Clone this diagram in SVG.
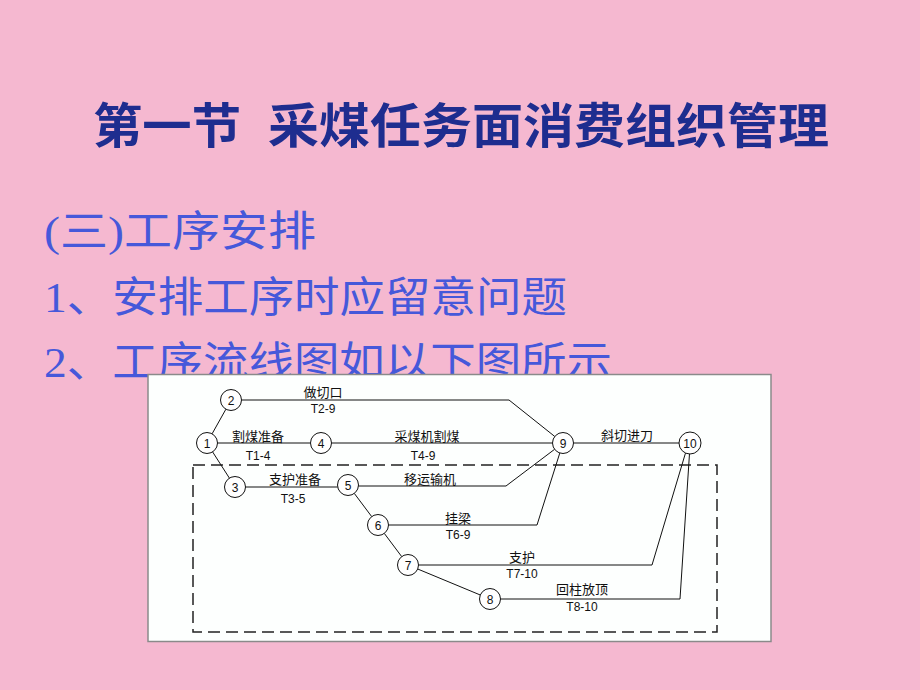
<svg xmlns="http://www.w3.org/2000/svg" width="920" height="690" viewBox="0 0 920 690">
<style>
.title{font-family:"Noto Sans CJK SC","Liberation Sans",sans-serif;font-weight:bold;fill:#1e2d8f}
.sub{font-family:"Liberation Serif","Noto Sans CJK SC",serif;fill:#4658da}
.cn{font-family:"Noto Sans CJK SC",sans-serif;font-size:13px;fill:#111;text-anchor:middle}
.code{font-family:"Liberation Sans",sans-serif;font-size:12px;fill:#111;text-anchor:middle}
.num{font-family:"Liberation Sans",sans-serif;font-size:12px;fill:#111;text-anchor:middle}
.node circle{fill:#fff;stroke:#111;stroke-width:1}
.edge{fill:none;stroke:#111;stroke-width:1}
</style>
<rect x="0" y="0" width="920" height="690" fill="#f5b8d0"/>
<text class="title" x="93" y="143" font-size="48" textLength="148" lengthAdjust="spacingAndGlyphs">第一节</text>
<text class="title" x="268" y="143" font-size="48" textLength="561" lengthAdjust="spacingAndGlyphs">采煤任务面消费组织管理</text>
<text class="sub" x="44" y="246" font-size="42" textLength="272" lengthAdjust="spacingAndGlyphs">(三)工序安排</text>
<text class="sub" x="44" y="312" font-size="42" textLength="523" lengthAdjust="spacingAndGlyphs">1、安排工序时应留意问题</text>
<text class="sub" x="44" y="377" font-size="42" textLength="568" lengthAdjust="spacingAndGlyphs">2、工序流线图如以下图所示</text>
<rect x="148" y="374.5" width="623" height="267" fill="#fdfffe" stroke="#8a8a8a" stroke-width="1.5"/>
<rect x="193" y="465" width="524" height="167" fill="none" stroke="#222" stroke-width="1.5" stroke-dasharray="12,6"/>
<g id="connectors">
<line class="edge" x1="212.1" y1="433.8" x2="225.9" y2="409.2"/>
<line class="edge" x1="212.6" y1="451.9" x2="229.4" y2="478.1"/>
<line class="edge" x1="217.5" y1="443" x2="310.5" y2="443"/>
<line class="edge" x1="331.5" y1="443" x2="552.5" y2="443"/>
<polyline class="edge" points="241.5,400 509,400 554.8,436.5"/>
<line class="edge" x1="245.5" y1="487" x2="337.7" y2="487"/>
<polyline class="edge" points="358.3,486 506,486 554.6,449.3"/>
<line class="edge" x1="354.3" y1="493.4" x2="371.7" y2="516.6"/>
<polyline class="edge" points="388.5,525 537,525 559.8,453"/>
<line class="edge" x1="384.3" y1="533.4" x2="401.7" y2="556.6"/>
<polyline class="edge" points="418.5,565 652,565 685.5,453"/>
<line class="edge" x1="417.7" y1="569" x2="480.3" y2="595"/>
<polyline class="edge" points="500.5,599 680,599 689.5,453.5"/>
<line class="edge" x1="573.5" y1="443" x2="679" y2="443"/>
</g>
<g id="labels">
<text class="cn" x="323" y="397">做切口</text>
<text class="code" x="323" y="413">T2-9</text>
<text class="cn" x="258" y="441">割煤准备</text>
<text class="code" x="258" y="460">T1-4</text>
<text class="cn" x="427" y="441">采煤机割煤</text>
<text class="code" x="423" y="460">T4-9</text>
<text class="cn" x="295" y="484">支护准备</text>
<text class="code" x="293" y="503">T3-5</text>
<text class="cn" x="430" y="484">移运输机</text>
<text class="cn" x="627" y="440">斜切进刀</text>
<text class="cn" x="458" y="523">挂梁</text>
<text class="code" x="458" y="539">T6-9</text>
<text class="cn" x="522" y="562">支护</text>
<text class="code" x="522" y="578">T7-10</text>
<text class="cn" x="582" y="594">回柱放顶</text>
<text class="code" x="582" y="611">T8-10</text>
</g>
<g id="n1" class="node"><circle cx="207" cy="443" r="10.5"/><text class="num" x="207" y="447.5">1</text></g>
<g id="n2" class="node"><circle cx="231" cy="400" r="10.5"/><text class="num" x="231" y="404.5">2</text></g>
<g id="n3" class="node"><circle cx="235" cy="487" r="10.5"/><text class="num" x="235" y="491.5">3</text></g>
<g id="n4" class="node"><circle cx="321" cy="443" r="10.5"/><text class="num" x="321" y="447.5">4</text></g>
<g id="n5" class="node"><circle cx="348" cy="485" r="10.5"/><text class="num" x="348" y="489.5">5</text></g>
<g id="n6" class="node"><circle cx="378" cy="525" r="10.5"/><text class="num" x="378" y="529.5">6</text></g>
<g id="n7" class="node"><circle cx="408" cy="565" r="10.5"/><text class="num" x="408" y="569.5">7</text></g>
<g id="n8" class="node"><circle cx="490" cy="599" r="10.5"/><text class="num" x="490" y="603.5">8</text></g>
<g id="n9" class="node"><circle cx="563" cy="443" r="10.5"/><text class="num" x="563" y="447.5">9</text></g>
<g id="n10" class="node"><circle cx="690" cy="443" r="11"/><text class="num" x="690" y="447.5">10</text></g>
</svg>
